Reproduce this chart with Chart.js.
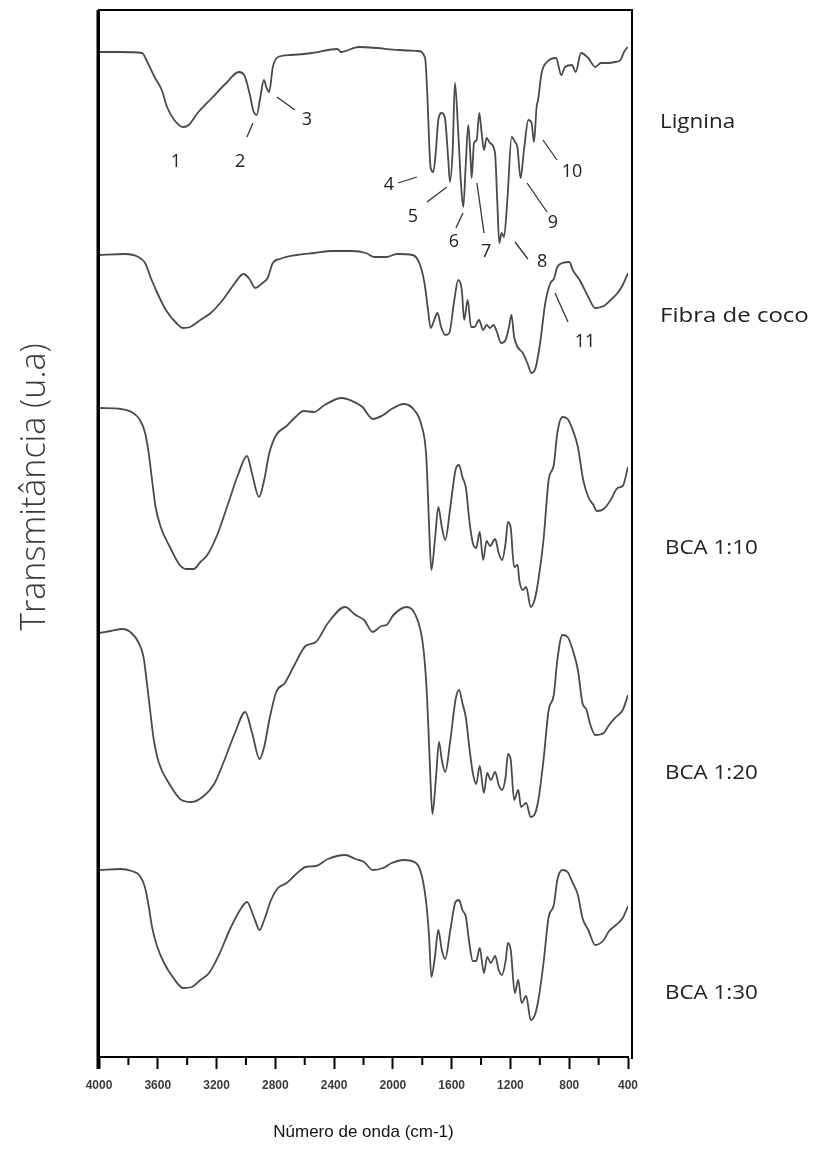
<!DOCTYPE html>
<html><head><meta charset="utf-8">
<script src="https://cdn.jsdelivr.net/npm/chart.js@4"></script>
<style>html,body{margin:0;padding:0;background:#fff;}canvas{display:block;}</style>
</head><body>
<canvas id="c" width="824" height="1151"></canvas>
<script>
// ---- data (wavenumber cm-1, transmittance a.u.) ----
const seriesNames = ["Lignina", "Fibra de coco", "BCA 1:10", "BCA 1:20", "BCA 1:30"];
const xTickValues = [4000, 3600, 3200, 2800, 2400, 2000, 1600, 1200, 800, 400];

const ligninaWn = [4000,3866,3707,3671,3622,3573,3537,3488,3427,3390,3329,3232,3134,3049,3012,2976,2951,2927,2902,2878,2859,2842,2817,2781,2695,2549,2378,2354,2232,2110,1963,1829,1781,1765,1752,1743,1725,1707,1691,1668,1646,1623,1612,1593,1578,1555,1537,1521,1505,1487,1471,1464,1448,1430,1412,1396,1380,1362,1339,1305,1290,1276,1260,1244,1221,1192,1169,1153,1131,1108,1078,1056,1040,1022,1012,988,951,890,854,829,781,756,720,671,622,585,537,488,451,427,402];
const ligninaT  = [1005,1005,1004,995,980,967,950,937,930,932,944,959,974,985,982,964,947,942,960,977,969,965,990,1000,1002,1004,1008,1005,1010,1009,1007,1006,999,960,910,889,885,907,937,944,939,897,875,907,974,924,874,850,890,932,897,879,914,917,944,924,907,919,914,904,857,814,824,820,857,920,915,910,879,907,937,934,915,950,957,984,995,999,982,990,992,985,1004,999,990,994,994,995,997,1005,1010];

const fibraWn = [4000,3826,3732,3686,3650,3603,3545,3474,3427,3380,3310,3240,3158,3075,3017,2981,2935,2888,2853,2817,2770,2653,2536,2418,2278,2184,2125,2043,1972,1867,1820,1785,1761,1743,1714,1696,1672,1644,1616,1585,1555,1531,1515,1491,1468,1444,1414,1386,1362,1339,1316,1292,1264,1233,1210,1193,1175,1151,1116,1085,1057,1029,998,963,928,905,881,846,799,776,729,670,623,565,518,471,436,400];
const fibraT  = [802,803,800,794,780,764,747,734,729,730,737,744,757,774,783,779,769,774,779,794,798,802,804,806,806,804,800,800,803,802,794,774,747,729,739,744,730,722,724,754,777,767,737,757,730,730,737,727,732,729,732,725,714,717,730,742,720,710,704,694,684,689,714,754,774,778,790,794,795,787,777,760,749,751,757,764,772,784];

const bca10Wn = [4000,3850,3779,3721,3686,3662,3639,3615,3580,3521,3451,3404,3357,3310,3263,3193,3122,3052,2993,2958,2911,2876,2841,2794,2723,2677,2606,2536,2465,2348,2278,2207,2137,2066,2019,1926,1855,1808,1773,1761,1750,1738,1714,1691,1667,1644,1609,1574,1550,1527,1503,1480,1456,1433,1409,1386,1362,1339,1304,1280,1257,1233,1217,1198,1175,1151,1140,1116,1093,1062,1034,1010,975,940,905,881,846,811,776,741,705,670,635,612,565,518,471,436,400];
const bca10T  = [649,648,645,637,624,604,577,550,530,511,492,488,488,495,502,523,553,583,601,583,560,577,604,622,631,638,646,645,652,659,656,650,638,642,647,653,647,633,601,560,517,487,517,550,530,517,550,587,592,580,569,537,514,509,525,497,516,511,518,504,497,514,535,529,490,492,477,467,470,450,458,477,517,577,592,624,640,638,627,610,577,560,552,546,548,557,569,571,590];

const bca20Wn = [4000,3920,3838,3779,3733,3697,3674,3650,3627,3592,3521,3439,3369,3287,3216,3146,3075,3005,2958,2907,2876,2841,2794,2735,2677,2594,2524,2442,2325,2254,2196,2137,2078,2043,1996,1907,1843,1796,1773,1757,1743,1731,1708,1686,1667,1644,1609,1574,1550,1527,1503,1480,1456,1433,1409,1381,1358,1334,1304,1280,1257,1233,1217,1198,1175,1147,1128,1093,1062,1034,1010,975,940,905,881,846,811,776,741,710,682,658,623,565,529,482,436,400];
const bca20T  = [424,426,428,424,415,400,374,344,317,294,273,257,255,261,273,297,324,345,324,298,310,337,365,374,390,411,415,434,450,442,437,425,431,432,442,450,441,413,374,324,273,243,277,315,297,285,317,357,367,354,339,310,284,273,291,264,284,277,285,272,267,280,303,297,257,267,250,254,240,243,257,297,347,362,397,422,420,407,387,354,347,333,322,324,332,340,347,362];

const bca30Wn = [4000,3850,3779,3721,3686,3662,3639,3603,3557,3498,3427,3369,3310,3251,3181,3111,3040,2993,2946,2907,2876,2829,2782,2723,2665,2594,2524,2442,2325,2254,2196,2137,2066,2008,1926,1843,1803,1773,1754,1738,1714,1691,1667,1644,1609,1574,1550,1527,1503,1480,1456,1433,1409,1381,1358,1334,1304,1280,1257,1233,1217,1198,1170,1147,1124,1093,1062,1034,1010,975,940,905,881,846,811,776,741,710,670,623,565,529,482,436,400];
const bca30T  = [187,188,186,181,169,151,130,110,94,80,69,70,77,84,103,127,147,155,140,127,137,157,169,174,182,190,191,198,202,198,195,187,189,194,197,194,181,154,121,80,100,127,107,98,127,155,157,147,140,114,96,96,109,84,100,94,101,87,82,96,114,107,64,77,54,61,37,42,57,94,140,152,177,187,185,174,162,139,127,112,117,126,132,139,151];

// band numbers and their leader lines (wavenumber, transmittance)
const bandLabels = ["1","2","3","4","5","6","7","8","9","10","11"];
const bandLabelWn = [3476,3040,2585,2027,1863,1584,1366,985,911,781,693];
const bandLabelT  = [895,895,937,872,840,815,805,795,834,885,715];
const leaderFrom = [null,[2952,934],[2789,960],[1965,874],[1768,855],[1571,829],[1428,874],[1169,815],[1087,874],[979,917],[897,764]];
const leaderTo   = [null,[2993,920],[2666,947],[1836,880],[1632,870],[1523,844],[1380,824],[1081,798],[951,845],[883,897],[808,735]];
// series name anchors (transmittance level)
const seriesLabelT = [935, 741, 509, 284, 64];

const toPts = (wn, t) => wn.map((w, i) => ({x: w, y: t[i]}));
const seriesData = [toPts(ligninaWn, ligninaT), toPts(fibraWn, fibraT), toPts(bca10Wn, bca10T), toPts(bca20Wn, bca20T), toPts(bca30Wn, bca30T)];

const overlay = {
  id: 'overlay',
  afterDraw(chart) {
    const {ctx, chartArea: a, scales: {x, y}} = chart;
    ctx.save();
    // frame
    ctx.strokeStyle = '#000';
    ctx.lineWidth = 2;
    ctx.beginPath();
    ctx.moveTo(a.left, a.bottom + 1);
    ctx.lineTo(a.left, a.top);
    ctx.lineTo(a.right + 4, a.top);
    ctx.lineTo(a.right + 4, a.bottom + 2);
    ctx.stroke();
    ctx.lineWidth = 3;
    ctx.beginPath(); ctx.moveTo(a.left - 1, a.top); ctx.lineTo(a.left - 1, a.bottom + 12); ctx.stroke();
    // minor ticks
    ctx.lineWidth = 2;
    ctx.beginPath();
    for (let w = 3800; w > 400; w -= 400) {
      const px = x.getPixelForValue(w);
      ctx.moveTo(px, a.bottom); ctx.lineTo(px, a.bottom + 8);
    }
    ctx.stroke();
    // leader lines
    ctx.strokeStyle = '#333';
    ctx.lineWidth = 1.3;
    ctx.beginPath();
    leaderFrom.forEach((f, i) => {
      if (!f) return;
      const t = leaderTo[i];
      ctx.moveTo(x.getPixelForValue(f[0]), y.getPixelForValue(f[1]));
      ctx.lineTo(x.getPixelForValue(t[0]), y.getPixelForValue(t[1]));
    });
    ctx.stroke();
    // band numbers
    ctx.fillStyle = '#222';
    ctx.font = '18px "Open Sans"';
    ctx.textAlign = 'center';
    ctx.textBaseline = 'middle';
    bandLabels.forEach((s, i) => {
      ctx.fillText(s, x.getPixelForValue(bandLabelWn[i]), y.getPixelForValue(bandLabelT[i]));
    });
    // series names
    ctx.font = '20px "Open Sans"';
    ctx.textAlign = 'left';
    seriesNames.forEach((s, i) => {
      const px = a.right + (i < 2 ? 32 : 37);
      const py = y.getPixelForValue(seriesLabelT[i]);
      ctx.save();
      ctx.translate(px, py);
      ctx.scale(i === 1 ? 1.2 : 1.12, 1);
      ctx.fillText(s, 0, 0);
      ctx.restore();
    });
    // y-axis title
    ctx.save();
    ctx.translate(35, 487);
    ctx.rotate(-Math.PI / 2);
    ctx.font = '300 34px "Open Sans"';
    ctx.fillStyle = '#3a3a3a';
    ctx.textAlign = 'center';
    ctx.fillText('Transmitância (u.a)', 0, 0);
    ctx.restore();
    ctx.restore();
  }
};

new Chart(document.getElementById('c'), {
  type: 'line',
  data: {
    datasets: seriesNames.map((n, i) => ({
      label: n,
      data: seriesData[i],
      borderColor: '#4a4a4a',
      borderWidth: 1.8,
      pointRadius: 0,
      fill: false,
      cubicInterpolationMode: 'monotone'
    }))
  },
  options: {
    responsive: false,
    animation: false,
    devicePixelRatio: 1,
    layout: {padding: {left: 99, right: 196, top: 10, bottom: 0}},
    plugins: {legend: {display: false}, tooltip: {enabled: false}},
    scales: {
      x: {
        type: 'linear',
        reverse: true,
        min: 400,
        max: 4000,
        afterBuildTicks: (s) => { s.ticks = xTickValues.map(v => ({value: v})); },
        afterFit: (s) => { s.height = 94; },
        grid: {display: true, drawOnChartArea: false, drawTicks: true, tickLength: 12, tickColor: '#000', tickWidth: 2},
        border: {display: true, color: '#000', width: 2},
        ticks: {color: '#3a3a3a', font: {family: '"Liberation Sans", Arial', size: 12, weight: 'bold'}, padding: 9, maxRotation: 0, autoSkip: false, callback: (v) => String(v)},
        title: {display: true, text: 'Número de onda (cm-1)', color: '#111', font: {family: '"Liberation Sans", Arial', size: 17}, padding: {top: 0, bottom: 8}}
      },
      y: {type: 'linear', display: false, min: 0, max: 1047}
    }
  },
  plugins: [overlay]
});
</script>
</body></html>
